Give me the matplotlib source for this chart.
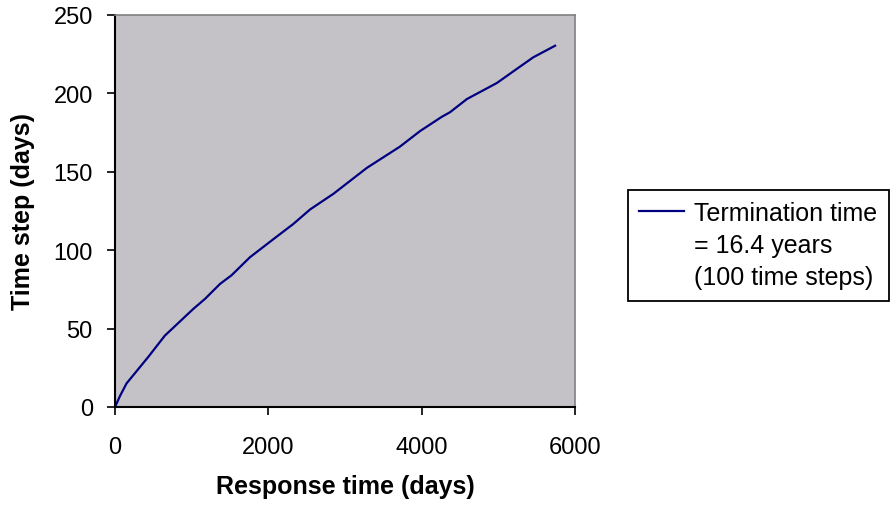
import matplotlib
matplotlib.use("Agg")
import matplotlib.pyplot as plt
from matplotlib.lines import Line2D

plt.rcParams['font.family'] = ['Liberation Sans', 'DejaVu Sans']

# values
response_days = [0, 65, 150, 435, 650, 1020, 1175, 1370, 1520, 1760, 2065,
                 2325, 2545, 2850, 3285, 3715, 3980, 4260, 4370, 4590,
                 4980, 5240, 5455, 5740]
time_step = [0, 7, 15, 32, 45.5, 62.5, 69, 78.5, 84, 95.5, 107,
             116.7, 126, 136, 152.5, 166, 176, 185, 188, 196.4,
             206.6, 215.6, 223, 230.4]
x_ticks = [0, 2000, 4000, 6000]
y_ticks = [0, 50, 100, 150, 200, 250]
legend_lines = ['Termination time', '= 16.4 years', '(100 time steps)']

fig = plt.figure(figsize=(8.93, 5.10), dpi=100)
ax = fig.add_axes([115/893, 1-408/510, 460/893, 392/510])
ax.set_facecolor('#C4C2C6')

line, = ax.plot(response_days, time_step, color='#000080', lw=1.6)

ax.set_xlim(0, 6000)
ax.set_ylim(0, 250)
ax.set_xticks(x_ticks)
ax.set_yticks(y_ticks)
ax.tick_params(direction='out', length=6, width=1.2, labelsize=17,
               pad=10, colors='black')
ax.tick_params(axis='x', pad=15)

for s in ['left', 'bottom']:
    ax.spines[s].set_color('black')
    ax.spines[s].set_linewidth(1.5)
for s in ['top', 'right']:
    ax.spines[s].set_color('#808080')
    ax.spines[s].set_linewidth(1.2)

ax.set_xlabel('Response time (days)', fontsize=18, fontweight='bold', va='center')
ax.set_ylabel('Time step (days)', fontsize=18, fontweight='bold', va='center')
ax.xaxis.set_label_coords(0.5, (408-487)/392)
ax.yaxis.set_label_coords((23-115)/460, 0.5)

blank = Line2D([], [], color='none')
leg = ax.legend([line, blank, blank], legend_lines,
                loc='center left', bbox_to_anchor=(628/893, 1-246/510),
                bbox_transform=fig.transFigure, fontsize=18,
                frameon=True, fancybox=False, edgecolor='black',
                framealpha=1, handlelength=1.8, handletextpad=0.4,
                labelspacing=0.33, borderpad=0.45, borderaxespad=0)
leg.get_frame().set_linewidth(1.3)

fig.savefig('out.png', dpi=100)
